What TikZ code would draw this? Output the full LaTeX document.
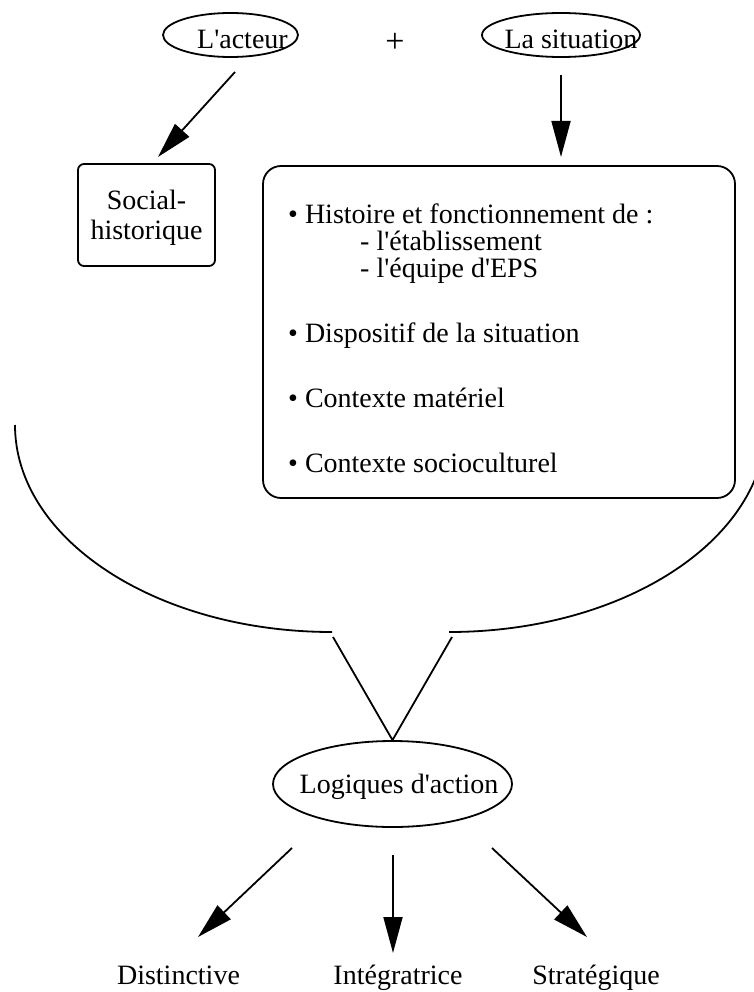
\documentclass[tikz,border=0pt]{standalone}
\usepackage{fontspec}
\setmainfont{Liberation Serif}[Ligatures=TeXOff]
\usetikzlibrary{arrows.meta,shapes.geometric}

\tikzset{
  ovale/.style={draw, ellipse, line width=1.8pt, inner sep=0pt},
  cadre/.style={draw, rounded corners=#1, line width=1.8pt, inner sep=0pt},
  fleche/.style={line width=1.8pt, -{Triangle[length=36pt,width=19pt]}},
  trait/.style={line width=1.8pt},
  ligne/.style={anchor=base west, inner sep=0pt},
  choix/.style={anchor=base, inner sep=0pt},
}

\begin{document}
\begin{tikzpicture}[x=1pt, y=-1pt, font=\fontsize{28}{30}\selectfont]
  \useasboundingbox (0,0) rectangle (753,992);

  % l'acteur + la situation
  \node[ovale, minimum width=135pt, minimum height=44pt, text height=28pt, text depth=0pt] (acteur) at (230.5,35) {\makebox[0pt]{\hspace{24pt}L'acteur}};
  \node[inner sep=0pt, font=\fontsize{34}{34}\selectfont] (plus) at (395,43) {+};
  \node[ovale, minimum width=158pt, minimum height=44pt, text height=28pt, text depth=0pt] (situation) at (561,35) {\makebox[0pt]{\hspace{20pt}La situation}};

  \node[cadre=6pt, minimum width=137pt, minimum height=102pt, align=center, text depth=0pt] (social) at (146.5,215) {Social-\\historique};
  \node[cadre=18pt, minimum width=472pt, minimum height=332pt] (contexte) at (499,332) {};

  \node[ligne] (histoire) at (288,224)   {• Histoire et fonctionnement de :};
  \node[ligne] (etab)     at (360,250.5) {- l'établissement};
  \node[ligne] (equipe)   at (360,277)   {- l'équipe d'EPS};
  \node[ligne] (dispo)    at (288,342)   {• Dispositif de la situation};
  \node[ligne] (materiel) at (288,407)   {• Contexte matériel};
  \node[ligne] (socio)    at (288,472)   {• Contexte socioculturel};

  \coordinate (acteur-bas)    at (235,72);
  \coordinate (social-haut)   at (158,157);
  \coordinate (situation-bas) at (561,75);
  \coordinate (contexte-haut) at (561,157);
  \draw[fleche] (acteur-bas) -- (social-haut);
  \draw[fleche] (situation-bas) -- (contexte-haut);

  % l'entonnoir
  \coordinate (vg) at (333,637);
  \coordinate (vd) at (452,637);
  \draw[trait] (15,425) arc[start angle=180, end angle=90, x radius=317, y radius=207];
  \draw[trait] (449,632) arc[start angle=90, end angle=0, x radius=317, y radius=207];

  \node[ovale, minimum width=239pt, minimum height=86pt, text height=18pt, text depth=0pt] (logiques) at (392.5,784) {\makebox[0pt]{\hspace{13pt}Logiques d'action}};
  \draw[trait] (vg) -- (logiques.north) -- (vd);

  % les trois logiques
  \node[choix] (distinctive)  at (178.5,984) {Distinctive};
  \node[choix] (integratrice) at (398,984)   {Intégratrice};
  \node[choix] (strategique)  at (596,984)   {Stratégique};

  \coordinate (lg) at (292,848);
  \coordinate (lm) at (393,855);
  \coordinate (ld) at (492,848);
  \coordinate (dg) at (198,937);
  \coordinate (dm) at (393,953);
  \coordinate (dd) at (587,937);
  \draw[fleche] (lg) -- (dg);
  \draw[fleche] (lm) -- (dm);
  \draw[fleche] (ld) -- (dd);
\end{tikzpicture}
\end{document}
